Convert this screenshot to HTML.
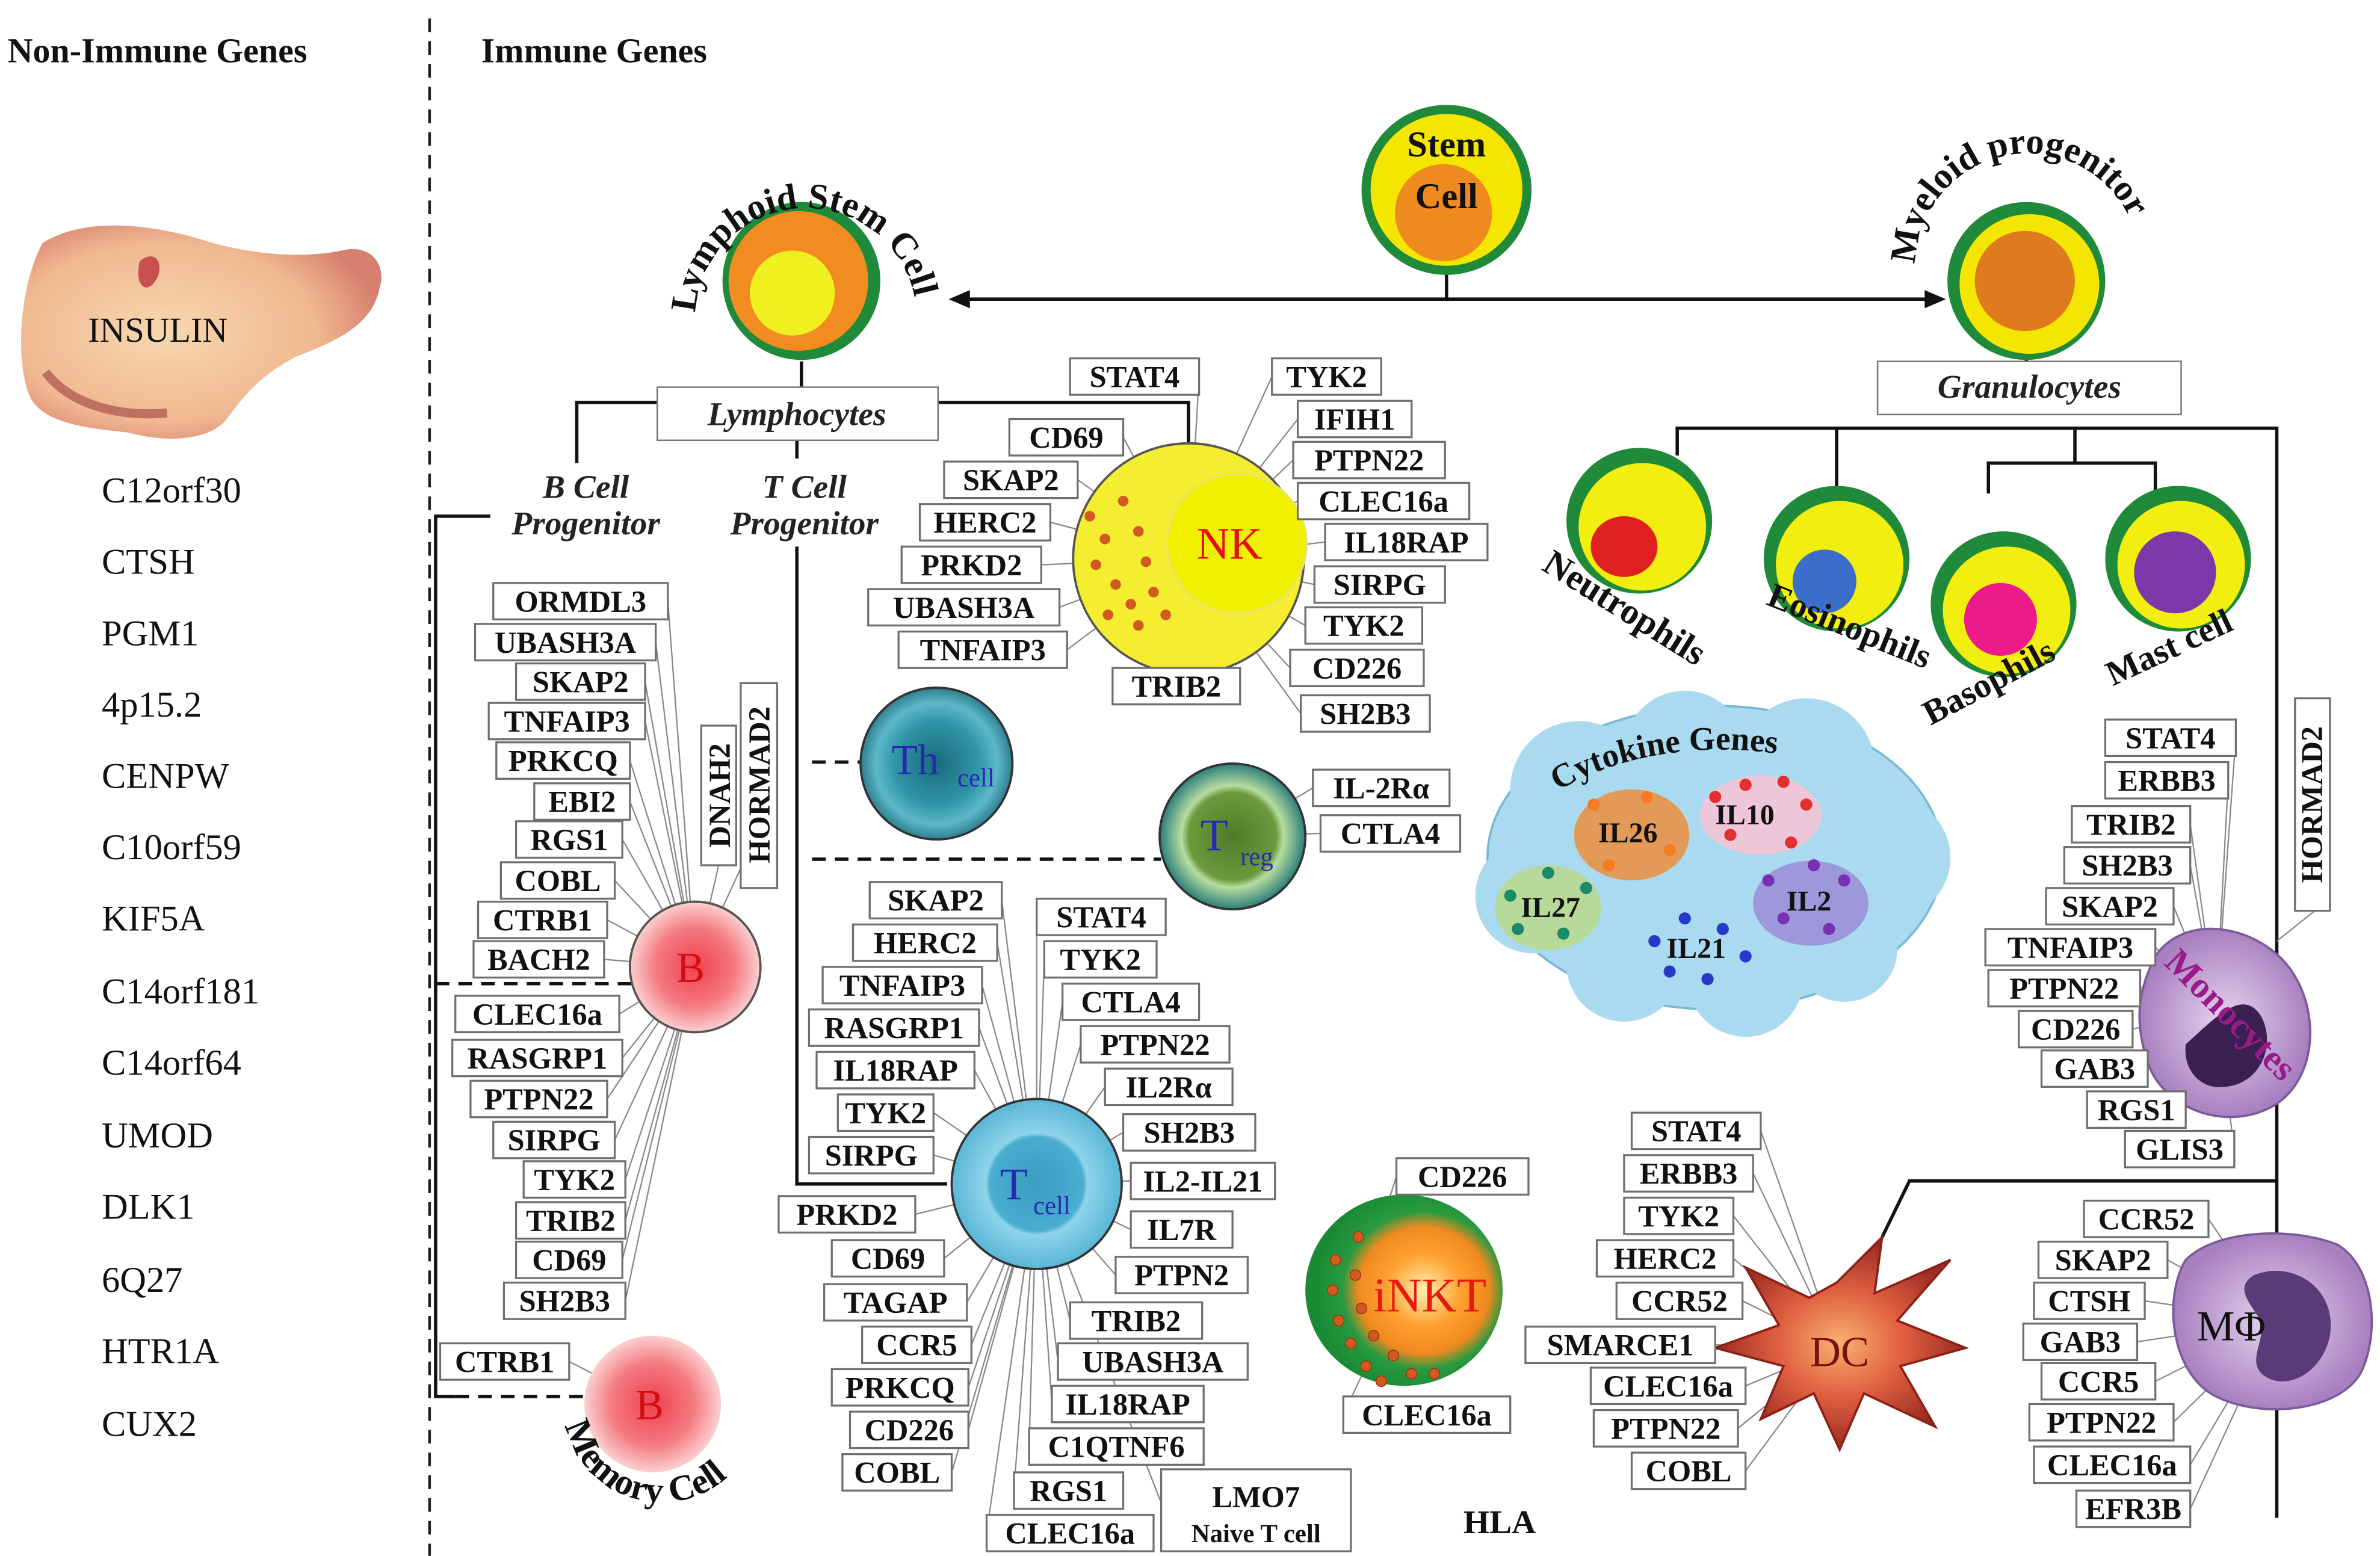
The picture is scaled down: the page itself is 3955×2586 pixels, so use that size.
<!DOCTYPE html>
<html><head><meta charset="utf-8"><style>
html,body{margin:0;padding:0;background:#fff;}
svg{display:block;}
.b rect{fill:#fff;stroke:#6f6f6f;stroke-width:1.3;}
.b text,.t{font-family:"Liberation Serif",serif;font-weight:bold;font-size:20px;text-anchor:middle;fill:#111;}
.ln line{stroke:#888;stroke-width:0.9;}
.g{font-family:"Liberation Serif",serif;font-size:24px;fill:#111;}
.h{font-family:"Liberation Serif",serif;font-weight:bold;font-size:23px;fill:#111;}
.i{font-family:"Liberation Serif",serif;font-style:italic;font-weight:bold;font-size:22px;fill:#222;text-anchor:middle;}
.c{font-family:"Liberation Serif",serif;font-weight:bold;font-size:24px;fill:#111;}
</style></head><body>
<svg width="3955" height="2586" viewBox="0 0 1568 1025" xmlns="http://www.w3.org/2000/svg">
<defs>
<radialGradient id="red" cx="50%" cy="50%" r="50%"><stop offset="0" stop-color="#f04050"/><stop offset="0.6" stop-color="#f47a80"/><stop offset="1" stop-color="#fbd0d0"/></radialGradient>
<radialGradient id="teal" cx="50%" cy="50%" r="50%"><stop offset="0" stop-color="#1a6a78"/><stop offset="0.55" stop-color="#2f95a8"/><stop offset="0.8" stop-color="#5cb8c8"/><stop offset="1" stop-color="#2f7f90"/></radialGradient>
<radialGradient id="blue" cx="50%" cy="50%" r="50%"><stop offset="0" stop-color="#3a9cc0"/><stop offset="0.55" stop-color="#4aaed0"/><stop offset="0.6" stop-color="#8ed4ea"/><stop offset="1" stop-color="#5ab6d6"/></radialGradient>
<radialGradient id="grn" cx="50%" cy="50%" r="50%"><stop offset="0" stop-color="#4f7a2a"/><stop offset="0.6" stop-color="#6b9a3c"/><stop offset="0.7" stop-color="#b8dca0"/><stop offset="1" stop-color="#2a7f7a"/></radialGradient>
<radialGradient id="inkt" cx="60%" cy="50%" r="55%"><stop offset="0" stop-color="#fff0b0"/><stop offset="0.35" stop-color="#ffa030"/><stop offset="0.6" stop-color="#f08a20"/><stop offset="0.75" stop-color="#2a9a40"/><stop offset="1" stop-color="#1a8a35"/></radialGradient>
<radialGradient id="pur" cx="50%" cy="50%" r="50%"><stop offset="0" stop-color="#e6d6ee"/><stop offset="1" stop-color="#a880c0"/></radialGradient>
<radialGradient id="dc" cx="50%" cy="50%" r="50%"><stop offset="0" stop-color="#f8b070"/><stop offset="0.5" stop-color="#e06040"/><stop offset="1" stop-color="#9a2a22"/></radialGradient>
<radialGradient id="pan" cx="40%" cy="50%" r="60%"><stop offset="0" stop-color="#f7d8b0"/><stop offset="0.7" stop-color="#f0b890"/><stop offset="1" stop-color="#d88070"/></radialGradient>
<path id="lymArc" d="M 458,210 A 72,72 0 1,1 604,210"/>
<path id="myArc" d="M 1262,178 A 74,74 0 1,1 1410,172"/>
<path id="memArc" d="M 372,935 A 60,60 0 0,0 500,915"/>
<path id="cytArc" d="M 1025,522 A 150,90 0 0,1 1215,508"/>
</defs>

<text class="h" x="5" y="41">Non-Immune Genes</text>
<text class="h" x="317" y="41">Immune Genes</text>
<line x1="283" y1="12" x2="283" y2="1025" stroke="#222" stroke-width="1.8" stroke-dasharray="9,6"/>

<path d="M28,160 C60,140 110,150 140,160 C170,168 200,170 225,165 C245,160 255,175 250,190 C245,215 220,225 195,235 C170,248 160,262 150,275 C140,290 110,292 85,285 C60,282 30,280 20,262 C10,240 12,190 28,160 Z" fill="url(#pan)"/>
<path d="M92,172 C100,165 108,170 104,182 C98,195 88,190 92,172Z" fill="#c85050"/>
<path d="M30,245 C45,265 75,275 110,272" stroke="#c07060" stroke-width="6" fill="none"/>
<text class="g" x="58" y="225" style="font-size:23px">INSULIN</text>

<g class="g">
<text x="67" y="331">C12orf30</text><text x="67" y="378">CTSH</text><text x="67" y="425">PGM1</text><text x="67" y="472">4p15.2</text><text x="67" y="519">CENPW</text><text x="67" y="566">C10orf59</text><text x="67" y="613">KIF5A</text><text x="67" y="661">C14orf181</text><text x="67" y="708">C14orf64</text><text x="67" y="756">UMOD</text><text x="67" y="803">DLK1</text><text x="67" y="851">6Q27</text><text x="67" y="898">HTR1A</text><text x="67" y="946">CUX2</text>
</g>

<g stroke="#111" stroke-width="2.2" fill="none">
<line x1="953" y1="175" x2="953" y2="197"/>
<line x1="635" y1="197" x2="1272" y2="197"/>
<line x1="528" y1="238" x2="528" y2="255"/>
<line x1="1335" y1="228" x2="1335" y2="238"/>
<polyline points="433,265 380,265 380,305"/>
<polyline points="618,265 783,265 783,293"/>
<polyline points="525,290 525,302"/>
<polyline points="525,360 525,780 620,780"/>
<polyline points="323,340 287,340 287,920 300,920"/>
<polyline points="1105,300 1105,282 1500,282 1500,1000"/>
<line x1="1210" y1="282" x2="1210" y2="320"/>
<polyline points="1367,282 1367,305"/>
<polyline points="1310,325 1310,305 1420,305 1420,325"/>
<polyline points="1240,815 1258,778 1500,778"/>
</g>
<path d="M625,197 l14,-6 v12 z M1282,197 l-14,-6 v12 z" fill="#111"/>
<g stroke="#111" stroke-width="2.2" stroke-dasharray="9,6" fill="none">
<line x1="287" y1="648" x2="416" y2="648"/>
<line x1="300" y1="920" x2="385" y2="920"/>
<line x1="535" y1="502" x2="567" y2="502"/>
<line x1="535" y1="566" x2="765" y2="566"/>
<line x1="525" y1="780" x2="628" y2="780"/>
</g>

<g class="ln">
<line x1="440" y1="396" x2="458" y2="637"/><line x1="432" y1="423" x2="458" y2="637"/><line x1="425" y1="449" x2="458" y2="637"/><line x1="425" y1="475" x2="458" y2="637"/><line x1="415" y1="501" x2="458" y2="637"/><line x1="415" y1="528" x2="458" y2="637"/><line x1="410" y1="553" x2="458" y2="637"/><line x1="405" y1="580" x2="458" y2="637"/><line x1="400" y1="606" x2="458" y2="637"/><line x1="398" y1="632" x2="458" y2="637"/><line x1="408" y1="668" x2="458" y2="637"/><line x1="410" y1="697" x2="458" y2="637"/><line x1="400" y1="724" x2="458" y2="637"/><line x1="405" y1="751" x2="458" y2="637"/><line x1="412" y1="777" x2="458" y2="637"/><line x1="412" y1="804" x2="458" y2="637"/><line x1="410" y1="830" x2="458" y2="637"/><line x1="412" y1="857" x2="458" y2="637"/><line x1="375" y1="897" x2="430" y2="925"/>
<line x1="485" y1="520" x2="458" y2="637"/><line x1="512" y1="520" x2="458" y2="637"/>
<line x1="790" y1="248" x2="783" y2="368"/><line x1="740" y1="288" x2="783" y2="368"/><line x1="710" y1="316" x2="783" y2="368"/><line x1="692" y1="344" x2="783" y2="368"/><line x1="686" y1="372" x2="783" y2="368"/><line x1="698" y1="400" x2="783" y2="368"/><line x1="703" y1="428" x2="783" y2="368"/><line x1="775" y1="440" x2="783" y2="368"/>
<line x1="838" y1="248" x2="783" y2="368"/><line x1="855" y1="276" x2="783" y2="368"/><line x1="852" y1="303" x2="783" y2="368"/><line x1="855" y1="330" x2="783" y2="368"/><line x1="873" y1="357" x2="783" y2="368"/><line x1="866" y1="385" x2="783" y2="368"/><line x1="860" y1="412" x2="783" y2="368"/><line x1="850" y1="440" x2="783" y2="368"/><line x1="857" y1="470" x2="783" y2="368"/>
<line x1="865" y1="519" x2="812" y2="551"/><line x1="870" y1="549" x2="812" y2="551"/>
<line x1="660" y1="593" x2="683" y2="780"/><line x1="657" y1="621" x2="683" y2="780"/><line x1="647" y1="649" x2="683" y2="780"/><line x1="645" y1="677" x2="683" y2="780"/><line x1="642" y1="705" x2="683" y2="780"/><line x1="615" y1="733" x2="683" y2="780"/><line x1="615" y1="761" x2="683" y2="780"/><line x1="603" y1="800" x2="683" y2="780"/><line x1="622" y1="829" x2="683" y2="780"/><line x1="637" y1="858" x2="683" y2="780"/><line x1="640" y1="886" x2="683" y2="780"/><line x1="638" y1="914" x2="683" y2="780"/><line x1="638" y1="942" x2="683" y2="780"/><line x1="627" y1="970" x2="683" y2="780"/><line x1="650" y1="1010" x2="683" y2="780"/>
<line x1="683" y1="604" x2="683" y2="780"/><line x1="688" y1="632" x2="683" y2="780"/><line x1="700" y1="660" x2="683" y2="780"/><line x1="712" y1="688" x2="683" y2="780"/><line x1="728" y1="716" x2="683" y2="780"/><line x1="740" y1="746" x2="683" y2="780"/><line x1="745" y1="778" x2="683" y2="780"/><line x1="745" y1="810" x2="683" y2="780"/><line x1="735" y1="840" x2="683" y2="780"/><line x1="705" y1="870" x2="683" y2="780"/><line x1="697" y1="897" x2="683" y2="780"/><line x1="693" y1="925" x2="683" y2="780"/><line x1="678" y1="953" x2="683" y2="780"/><line x1="668" y1="982" x2="683" y2="780"/><line x1="765" y1="990" x2="683" y2="780"/>
<line x1="1473" y1="486" x2="1460" y2="665"/><line x1="1468" y1="514" x2="1460" y2="665"/><line x1="1443" y1="543" x2="1460" y2="665"/><line x1="1443" y1="570" x2="1460" y2="665"/><line x1="1432" y1="597" x2="1460" y2="665"/><line x1="1420" y1="624" x2="1460" y2="665"/><line x1="1410" y1="651" x2="1460" y2="665"/><line x1="1405" y1="678" x2="1460" y2="665"/><line x1="1415" y1="704" x2="1460" y2="665"/><line x1="1440" y1="731" x2="1460" y2="665"/><line x1="1472" y1="757" x2="1460" y2="665"/>
<line x1="1455" y1="803" x2="1500" y2="870"/><line x1="1428" y1="830" x2="1500" y2="870"/><line x1="1413" y1="857" x2="1500" y2="870"/><line x1="1408" y1="884" x2="1500" y2="870"/><line x1="1420" y1="910" x2="1500" y2="870"/><line x1="1432" y1="937" x2="1500" y2="870"/><line x1="1443" y1="965" x2="1500" y2="870"/><line x1="1443" y1="994" x2="1500" y2="870"/>
<line x1="1160" y1="745" x2="1210" y2="888"/><line x1="1155" y1="773" x2="1210" y2="888"/><line x1="1142" y1="801" x2="1210" y2="888"/><line x1="1142" y1="829" x2="1210" y2="888"/><line x1="1148" y1="857" x2="1210" y2="888"/><line x1="1130" y1="886" x2="1210" y2="888"/><line x1="1150" y1="913" x2="1210" y2="888"/><line x1="1145" y1="941" x2="1210" y2="888"/><line x1="1150" y1="969" x2="1210" y2="888"/>
<line x1="920" y1="775" x2="912" y2="800"/><line x1="885" y1="932" x2="900" y2="900"/>
<line x1="1525" y1="600" x2="1500" y2="620"/>
</g>

<circle cx="953" cy="125" r="56" fill="#1e8a3a"/><circle cx="953" cy="125" r="50" fill="#f4e600"/><circle cx="951" cy="140" r="32" fill="#ef8a1e"/>
<text class="c" x="953" y="103" text-anchor="middle">Stem</text><text class="c" x="953" y="137" text-anchor="middle">Cell</text>
<circle cx="528" cy="185" r="52" fill="#1e8a3a"/><circle cx="526" cy="185" r="46" fill="#f08c20"/><circle cx="522" cy="193" r="28" fill="#f0f020"/>
<text class="c"><textPath href="#lymArc" startOffset="4">Lymphoid Stem Cell</textPath></text>
<circle cx="1335" cy="185" r="52" fill="#1e8a3a"/><circle cx="1337" cy="187" r="46" fill="#f4e600"/><circle cx="1334" cy="185" r="33" fill="#e07a1e"/>
<text class="c"><textPath href="#myArc" startOffset="4">Myeloid progenitor</textPath></text>

<rect x="433" y="255" width="185" height="35" fill="#fff" stroke="#777"/>
<text class="i" x="525" y="280">Lymphocytes</text>
<rect x="1237" y="238" width="200" height="35" fill="#fff" stroke="#777"/>
<text class="i" x="1337" y="262">Granulocytes</text>
<text class="i" x="386" y="328">B Cell</text><text class="i" x="386" y="352">Progenitor</text>
<text class="i" x="530" y="328">T Cell</text><text class="i" x="530" y="352">Progenitor</text>

<g>
<circle cx="1080" cy="343" r="48" fill="#1e8a3a"/><circle cx="1082" cy="347" r="42" fill="#f2ee10"/><ellipse cx="1070" cy="360" rx="22" ry="20" fill="#e02020"/>
<circle cx="1210" cy="368" r="48" fill="#1e8a3a"/><circle cx="1212" cy="372" r="42" fill="#f2ee10"/><circle cx="1202" cy="383" r="21" fill="#3a6ec8"/>
<circle cx="1320" cy="398" r="48" fill="#1e8a3a"/><circle cx="1322" cy="402" r="42" fill="#f2ee10"/><circle cx="1318" cy="408" r="24" fill="#ec1a8a"/>
<circle cx="1435" cy="368" r="48" fill="#1e8a3a"/><circle cx="1437" cy="372" r="42" fill="#f2ee10"/><circle cx="1433" cy="377" r="27" fill="#7a38a8"/>
</g>
<text class="c" transform="translate(1015,375) rotate(32)">Neutrophils</text>
<text class="c" transform="translate(1163,398) rotate(22)" style="font-size:23px">Eosinophils</text>
<text class="c" transform="translate(1272,478) rotate(-28)" style="font-size:23px">Basophils</text>
<text class="c" transform="translate(1392,452) rotate(-25)" style="font-size:23px">Mast cell</text>

<g fill="#aadaf0" stroke="#7ab8d8" stroke-width="1.5">
<ellipse cx="1130" cy="565" rx="150" ry="100"/>
</g>
<g fill="#aadaf0">
<circle cx="1040" cy="520" r="45"/><circle cx="1110" cy="495" r="40"/><circle cx="1190" cy="505" r="45"/><circle cx="1245" cy="565" r="40"/><circle cx="1010" cy="590" r="38"/><circle cx="1070" cy="635" r="38"/><circle cx="1150" cy="645" r="38"/><circle cx="1215" cy="625" r="35"/>
</g>
<ellipse cx="1075" cy="550" rx="38" ry="30" fill="#f08a30" opacity="0.8"/>
<ellipse cx="1160" cy="537" rx="40" ry="26" fill="#f4c4d4" opacity="0.9"/>
<ellipse cx="1020" cy="598" rx="35" ry="28" fill="#b8d890" opacity="0.9"/>
<ellipse cx="1193" cy="595" rx="38" ry="28" fill="#9a90d8" opacity="0.9"/>
<g fill="#e03030"><circle cx="1130" cy="525" r="4"/><circle cx="1150" cy="517" r="4"/><circle cx="1175" cy="515" r="4"/><circle cx="1190" cy="530" r="4"/><circle cx="1140" cy="550" r="4"/><circle cx="1180" cy="555" r="4"/></g>
<g fill="#1a8a6a"><circle cx="995" cy="590" r="4"/><circle cx="1000" cy="612" r="4"/><circle cx="1030" cy="615" r="4"/><circle cx="1045" cy="585" r="4"/><circle cx="1020" cy="575" r="4"/></g>
<g fill="#2838c8"><circle cx="1090" cy="620" r="4"/><circle cx="1110" cy="605" r="4"/><circle cx="1135" cy="612" r="4"/><circle cx="1100" cy="640" r="4"/><circle cx="1125" cy="645" r="4"/><circle cx="1150" cy="630" r="4"/></g>
<g fill="#7a30b0"><circle cx="1165" cy="580" r="4"/><circle cx="1175" cy="605" r="4"/><circle cx="1205" cy="612" r="4"/><circle cx="1215" cy="580" r="4"/><circle cx="1195" cy="570" r="4"/></g>
<g fill="#f57a20"><circle cx="1050" cy="530" r="4"/><circle cx="1085" cy="525" r="4"/><circle cx="1100" cy="560" r="4"/><circle cx="1060" cy="570" r="4"/></g>
<text class="c" style="font-size:22px"><textPath href="#cytArc" startOffset="2">Cytokine Genes</textPath></text>
<g class="c" style="font-size:19px"><text x="1053" y="555">IL26</text><text x="1130" y="543">IL10</text><text x="1002" y="604">IL27</text><text x="1177" y="600">IL2</text><text x="1098" y="631">IL21</text></g>

<circle cx="458" cy="637" r="43" fill="url(#red)" stroke="#555" stroke-width="1.5"/>
<text x="455" y="647" font-family="Liberation Serif" font-size="28" fill="#d01010" text-anchor="middle">B</text>
<circle cx="430" cy="925" r="45" fill="url(#red)"/>
<text x="428" y="935" font-family="Liberation Serif" font-size="28" fill="#d01010" text-anchor="middle">B</text>
<text class="c"><textPath href="#memArc" startOffset="4">Memory Cell</textPath></text>

<circle cx="783" cy="368" r="76" fill="#f5ee30" stroke="#555" stroke-width="1.5"/>
<circle cx="815" cy="358" r="46" fill="#f0f000" stroke="#e8e080"/>
<g fill="#d05a20"><circle cx="718" cy="340" r="3.5"/><circle cx="728" cy="355" r="3.5"/><circle cx="722" cy="372" r="3.5"/><circle cx="735" cy="385" r="3.5"/><circle cx="745" cy="398" r="3.5"/><circle cx="740" cy="330" r="3.5"/><circle cx="750" cy="350" r="3.5"/><circle cx="755" cy="370" r="3.5"/><circle cx="760" cy="390" r="3.5"/><circle cx="768" cy="405" r="3.5"/><circle cx="730" cy="405" r="3.5"/><circle cx="750" cy="412" r="3.5"/></g>
<text x="810" y="368" font-family="Liberation Serif" font-size="30" fill="#e01010" text-anchor="middle">NK</text>

<circle cx="617" cy="503" r="50" fill="url(#teal)" stroke="#333" stroke-width="1.5"/>
<text x="603" y="510" font-family="Liberation Serif" font-size="28" fill="#2828b0" text-anchor="middle">Th</text><text x="643" y="518" font-family="Liberation Serif" font-size="17" fill="#2828b0" text-anchor="middle">cell</text>
<circle cx="812" cy="551" r="48" fill="url(#grn)" stroke="#333" stroke-width="1.5"/>
<text x="800" y="560" font-family="Liberation Serif" font-size="30" fill="#2828b0" text-anchor="middle">T</text><text x="828" y="570" font-family="Liberation Serif" font-size="17" fill="#2828b0" text-anchor="middle">reg</text>
<circle cx="683" cy="780" r="56" fill="url(#blue)" stroke="#333" stroke-width="1.5"/>
<text x="668" y="790" font-family="Liberation Serif" font-size="30" fill="#2828b0" text-anchor="middle">T</text><text x="693" y="800" font-family="Liberation Serif" font-size="17" fill="#2828b0" text-anchor="middle">cell</text>

<ellipse cx="925" cy="850" rx="65" ry="63" fill="url(#inkt)"/>
<g fill="#d05a20" stroke="#a03010" stroke-width="0.6"><circle cx="880" cy="830" r="3.5"/><circle cx="878" cy="850" r="3.5"/><circle cx="882" cy="870" r="3.5"/><circle cx="890" cy="885" r="3.5"/><circle cx="900" cy="900" r="3.5"/><circle cx="910" cy="910" r="3.5"/><circle cx="895" cy="815" r="3.5"/><circle cx="893" cy="840" r="3.5"/><circle cx="897" cy="862" r="3.5"/><circle cx="905" cy="880" r="3.5"/><circle cx="918" cy="893" r="3.5"/><circle cx="930" cy="905" r="3.5"/><circle cx="945" cy="905" r="3.5"/></g>
<text x="942" y="864" font-family="Liberation Serif" font-size="32" fill="#e81a10" text-anchor="middle">iNKT</text>

<path d="M1210,845 L1240,815 L1235,852 L1285,830 L1250,870 L1295,888 L1252,900 L1275,940 L1228,918 L1212,955 L1195,918 L1160,935 L1175,900 L1130,888 L1172,873 L1150,835 L1192,855 Z" fill="url(#dc)" stroke="#8a2018" stroke-width="1.5"/>
<text x="1212" y="900" font-family="Liberation Serif" font-size="28" fill="#7a1010" text-anchor="middle">DC</text>

<path d="M1420,630 C1440,600 1490,610 1510,640 C1530,670 1525,715 1495,730 C1465,745 1425,730 1415,700 C1405,670 1410,650 1420,630Z" fill="url(#pur)" stroke="#7a5a9a" stroke-width="1.5"/>
<path d="M1440,688 C1460,670 1478,650 1490,670 C1500,690 1488,715 1465,716 C1450,718 1438,705 1440,688Z" fill="#3a2050"/>
<text class="c" transform="translate(1425,635) rotate(45)" style="fill:#9a1a8a;font-size:24px">Monocytes</text>
<path d="M1440,830 C1460,810 1510,808 1540,820 C1565,835 1568,880 1555,905 C1540,930 1490,935 1460,920 C1430,905 1425,855 1440,830Z" fill="url(#pur)" stroke="#7a5a9a" stroke-width="1.5"/>
<path d="M1485,840 C1510,830 1540,848 1535,880 C1530,905 1505,918 1490,905 C1480,895 1495,880 1488,868 C1482,858 1472,848 1485,840Z" fill="#5a3a78"/>
<text x="1470" y="883" font-family="Liberation Serif" font-size="28" fill="#111" text-anchor="middle">MΦ</text>

<g class="b">
<rect x="325" y="384" width="115" height="24"/><text x="382.5" y="403">ORMDL3</text>
<rect x="313" y="411" width="119" height="24"/><text x="372.5" y="430">UBASH3A</text>
<rect x="340" y="437" width="85" height="24"/><text x="382.5" y="456">SKAP2</text>
<rect x="322" y="463" width="103" height="24"/><text x="373.5" y="482">TNFAIP3</text>
<rect x="327" y="489" width="88" height="24"/><text x="371" y="508">PRKCQ</text>
<rect x="352" y="516" width="63" height="24"/><text x="383.5" y="535">EBI2</text>
<rect x="340" y="541" width="70" height="24"/><text x="375" y="560">RGS1</text>
<rect x="330" y="568" width="75" height="24"/><text x="367.5" y="587">COBL</text>
<rect x="315" y="594" width="85" height="24"/><text x="357.5" y="613">CTRB1</text>
<rect x="312" y="620" width="86" height="24"/><text x="355" y="639">BACH2</text>
<rect x="300" y="656" width="108" height="24"/><text x="354" y="675">CLEC16a</text>
<rect x="298" y="685" width="112" height="24"/><text x="354" y="704">RASGRP1</text>
<rect x="310" y="712" width="90" height="24"/><text x="355" y="731">PTPN22</text>
<rect x="325" y="739" width="80" height="24"/><text x="365" y="758">SIRPG</text>
<rect x="345" y="765" width="67" height="24"/><text x="378.5" y="784">TYK2</text>
<rect x="340" y="792" width="72" height="24"/><text x="376" y="811">TRIB2</text>
<rect x="340" y="818" width="70" height="24"/><text x="375" y="837">CD69</text>
<rect x="332" y="845" width="80" height="24"/><text x="372" y="864">SH2B3</text>
<rect x="290" y="885" width="85" height="24"/><text x="332.5" y="904">CTRB1</text>
<rect x="462" y="478" width="23" height="92"/><text transform="translate(481,524) rotate(-90)">DNAH2</text>
<rect x="488" y="450" width="24" height="135"/><text transform="translate(507,517) rotate(-90)">HORMAD2</text>
<rect x="1512" y="460" width="23" height="140"/><text transform="translate(1530,530) rotate(-90)">HORMAD2</text>

<rect x="705" y="236" width="85" height="24"/><text x="747.5" y="255">STAT4</text>
<rect x="665" y="276" width="75" height="24"/><text x="702.5" y="295">CD69</text>
<rect x="622" y="304" width="88" height="24"/><text x="666" y="323">SKAP2</text>
<rect x="606" y="332" width="86" height="24"/><text x="649" y="351">HERC2</text>
<rect x="594" y="360" width="92" height="24"/><text x="640" y="379">PRKD2</text>
<rect x="572" y="388" width="126" height="24"/><text x="635" y="407">UBASH3A</text>
<rect x="592" y="416" width="111" height="24"/><text x="647.5" y="435">TNFAIP3</text>
<rect x="733" y="440" width="84" height="24"/><text x="775" y="459">TRIB2</text>
<rect x="838" y="236" width="72" height="24"/><text x="874" y="255">TYK2</text>
<rect x="855" y="264" width="75" height="24"/><text x="892.5" y="283">IFIH1</text>
<rect x="852" y="291" width="100" height="24"/><text x="902" y="310">PTPN22</text>
<rect x="855" y="318" width="113" height="24"/><text x="911.5" y="337">CLEC16a</text>
<rect x="873" y="345" width="107" height="24"/><text x="926.5" y="364">IL18RAP</text>
<rect x="866" y="373" width="86" height="24"/><text x="909" y="392">SIRPG</text>
<rect x="860" y="400" width="77" height="24"/><text x="898.5" y="419">TYK2</text>
<rect x="850" y="428" width="88" height="24"/><text x="894" y="447">CD226</text>
<rect x="857" y="458" width="85" height="24"/><text x="899.5" y="477">SH2B3</text>
<rect x="865" y="507" width="90" height="24"/><text x="910" y="526">IL-2Rα</text>
<rect x="870" y="537" width="92" height="24"/><text x="916" y="556">CTLA4</text>

<rect x="573" y="581" width="87" height="24"/><text x="616.5" y="600">SKAP2</text>
<rect x="562" y="609" width="95" height="24"/><text x="609.5" y="628">HERC2</text>
<rect x="542" y="637" width="105" height="24"/><text x="594.5" y="656">TNFAIP3</text>
<rect x="533" y="665" width="112" height="24"/><text x="589" y="684">RASGRP1</text>
<rect x="538" y="693" width="104" height="24"/><text x="590" y="712">IL18RAP</text>
<rect x="552" y="721" width="63" height="24"/><text x="583.5" y="740">TYK2</text>
<rect x="533" y="749" width="82" height="24"/><text x="574" y="768">SIRPG</text>
<rect x="513" y="788" width="90" height="24"/><text x="558" y="807">PRKD2</text>
<rect x="548" y="817" width="74" height="24"/><text x="585" y="836">CD69</text>
<rect x="543" y="846" width="94" height="24"/><text x="590" y="865">TAGAP</text>
<rect x="568" y="874" width="72" height="24"/><text x="604" y="893">CCR5</text>
<rect x="548" y="902" width="90" height="24"/><text x="593" y="921">PRKCQ</text>
<rect x="560" y="930" width="78" height="24"/><text x="599" y="949">CD226</text>
<rect x="555" y="958" width="72" height="24"/><text x="591" y="977">COBL</text>
<rect x="683" y="592" width="85" height="24"/><text x="725.5" y="611">STAT4</text>
<rect x="688" y="620" width="74" height="24"/><text x="725" y="639">TYK2</text>
<rect x="700" y="648" width="90" height="24"/><text x="745" y="667">CTLA4</text>
<rect x="712" y="676" width="98" height="24"/><text x="761" y="695">PTPN22</text>
<rect x="728" y="704" width="84" height="24"/><text x="770" y="723">IL2Rα</text>
<rect x="740" y="734" width="87" height="24"/><text x="783.5" y="753">SH2B3</text>
<rect x="745" y="766" width="95" height="24"/><text x="792.5" y="785">IL2-IL21</text>
<rect x="745" y="798" width="67" height="24"/><text x="778.5" y="817">IL7R</text>
<rect x="735" y="828" width="87" height="24"/><text x="778.5" y="847">PTPN2</text>
<rect x="705" y="858" width="87" height="24"/><text x="748.5" y="877">TRIB2</text>
<rect x="697" y="885" width="125" height="24"/><text x="759.5" y="904">UBASH3A</text>
<rect x="693" y="913" width="100" height="24"/><text x="743" y="932">IL18RAP</text>
<rect x="678" y="941" width="115" height="24"/><text x="735.5" y="960">C1QTNF6</text>
<rect x="668" y="970" width="72" height="24"/><text x="704" y="989">RGS1</text>
<rect x="650" y="998" width="110" height="24"/><text x="705" y="1017">CLEC16a</text>
<rect x="765" y="968" width="125" height="54"/><text x="827.5" y="993">LMO7</text><text x="827.5" y="1016" style="font-size:17px">Naive T cell</text>

<rect x="920" y="763" width="87" height="24"/><text x="963.5" y="782">CD226</text>
<rect x="885" y="920" width="110" height="24"/><text x="940" y="939">CLEC16a</text>

<rect x="1075" y="733" width="85" height="24"/><text x="1117.5" y="752">STAT4</text>
<rect x="1070" y="761" width="85" height="24"/><text x="1112.5" y="780">ERBB3</text>
<rect x="1070" y="789" width="72" height="24"/><text x="1106" y="808">TYK2</text>
<rect x="1052" y="817" width="90" height="24"/><text x="1097" y="836">HERC2</text>
<rect x="1065" y="845" width="83" height="24"/><text x="1106.5" y="864">CCR52</text>
<rect x="1005" y="874" width="125" height="24"/><text x="1067.5" y="893">SMARCE1</text>
<rect x="1048" y="901" width="102" height="24"/><text x="1099" y="920">CLEC16a</text>
<rect x="1050" y="929" width="95" height="24"/><text x="1097.5" y="948">PTPN22</text>
<rect x="1075" y="957" width="75" height="24"/><text x="1112.5" y="976">COBL</text>

<rect x="1387" y="474" width="86" height="24"/><text x="1430" y="493">STAT4</text>
<rect x="1387" y="502" width="81" height="24"/><text x="1427.5" y="521">ERBB3</text>
<rect x="1365" y="531" width="78" height="24"/><text x="1404" y="550">TRIB2</text>
<rect x="1360" y="558" width="83" height="24"/><text x="1401.5" y="577">SH2B3</text>
<rect x="1348" y="585" width="84" height="24"/><text x="1390" y="604">SKAP2</text>
<rect x="1308" y="612" width="112" height="24"/><text x="1364" y="631">TNFAIP3</text>
<rect x="1310" y="639" width="100" height="24"/><text x="1360" y="658">PTPN22</text>
<rect x="1330" y="666" width="75" height="24"/><text x="1367.5" y="685">CD226</text>
<rect x="1345" y="692" width="70" height="24"/><text x="1380" y="711">GAB3</text>
<rect x="1375" y="719" width="65" height="24"/><text x="1407.5" y="738">RGS1</text>
<rect x="1400" y="745" width="72" height="24"/><text x="1436" y="764">GLIS3</text>

<rect x="1373" y="791" width="82" height="24"/><text x="1414" y="810">CCR52</text>
<rect x="1343" y="818" width="85" height="24"/><text x="1385.5" y="837">SKAP2</text>
<rect x="1340" y="845" width="73" height="24"/><text x="1376.5" y="864">CTSH</text>
<rect x="1333" y="872" width="75" height="24"/><text x="1370.5" y="891">GAB3</text>
<rect x="1345" y="898" width="75" height="24"/><text x="1382.5" y="917">CCR5</text>
<rect x="1337" y="925" width="95" height="24"/><text x="1384.5" y="944">PTPN22</text>
<rect x="1340" y="953" width="103" height="24"/><text x="1391.5" y="972">CLEC16a</text>
<rect x="1368" y="982" width="75" height="24"/><text x="1405.5" y="1001">EFR3B</text>
</g>
<text class="t" x="988" y="1010" style="font-size:22px">HLA</text>
</svg>
</body></html>
